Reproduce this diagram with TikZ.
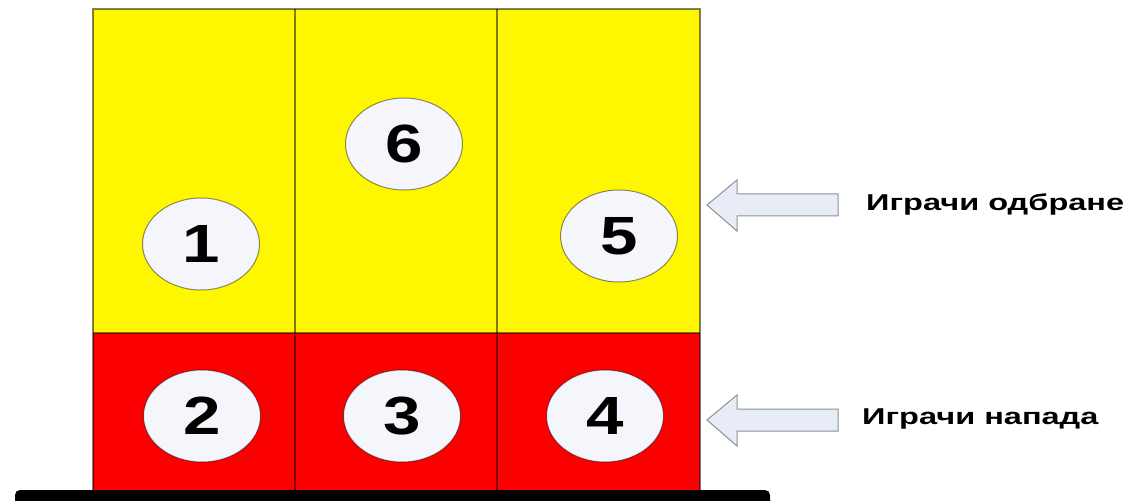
\documentclass[tikz,border=0pt]{standalone}
\usepackage{fontspec}
\setmainfont{Liberation Sans}
\usetikzlibrary{shapes.geometric}
\definecolor{courtyellow}{RGB}{255,247,0}
\definecolor{courtred}{RGB}{250,0,0}
\definecolor{ballfill}{RGB}{244,246,251}
\definecolor{arrowfill}{RGB}{232,236,246}
\definecolor{arrowline}{RGB}{140,145,150}
\begin{document}
\begin{tikzpicture}[x=1bp,y=-1bp,
  courtline/.style={draw=black,draw opacity=0.5,line width=1.1bp},
  player/.style={ellipse,fill=ballfill,draw=black,draw opacity=0.45,line width=1bp,
    minimum width=117bp,minimum height=92bp,inner sep=0pt,
    font=\bfseries\fontsize{54}{54}\selectfont},
  blockarrow/.style={draw=arrowline,fill=arrowfill,line width=1bp,line join=miter},
  sidelabel/.style={anchor=west,inner sep=0pt,font=\bfseries\fontsize{23}{23}\selectfont}]
\useasboundingbox (0,0) rectangle (1134,501);
% court
\fill[courtyellow] (93,9) rectangle (700,333);
\fill[courtred] (93,333) rectangle (700,492);
\draw[courtline] (93,9) rectangle (700,492);
\draw[courtline] (93,333) -- (700,333);
\draw[courtline] (295,9) -- (295,492);
\draw[courtline] (497,9) -- (497,492);
% base bar
\fill[black,rounded corners=5bp] (15,490) rectangle (770,506);
% players
\node[player] (p1) at (201,244) {\scalebox{1.25}[1]{1}};
\node[player] (p6) at (404,144) {\scalebox{1.25}[1]{6}};
\node[player] (p5) at (619,236) {\scalebox{1.25}[1]{5}};
\node[player] (p2) at (202,416) {\scalebox{1.25}[1]{2}};
\node[player] (p3) at (402,416) {\scalebox{1.25}[1]{3}};
\node[player] (p4) at (605,416) {\scalebox{1.25}[1]{4}};
% arrows
\draw[blockarrow] (707,205) -- (737,180) -- (737,194) -- (838,194) -- (838,216) -- (737,216) -- (737,231) -- cycle;
\draw[blockarrow] (707,420) -- (737,395) -- (737,409) -- (838,409) -- (838,431) -- (737,431) -- (737,446) -- cycle;
% labels
\node[sidelabel] (ldef) at (866,204) {\scalebox{1.42}[1]{Играчи одбране}};
\node[sidelabel] (latt) at (862,419) {\scalebox{1.42}[1]{Играчи напада}};
\end{tikzpicture}
\end{document}
